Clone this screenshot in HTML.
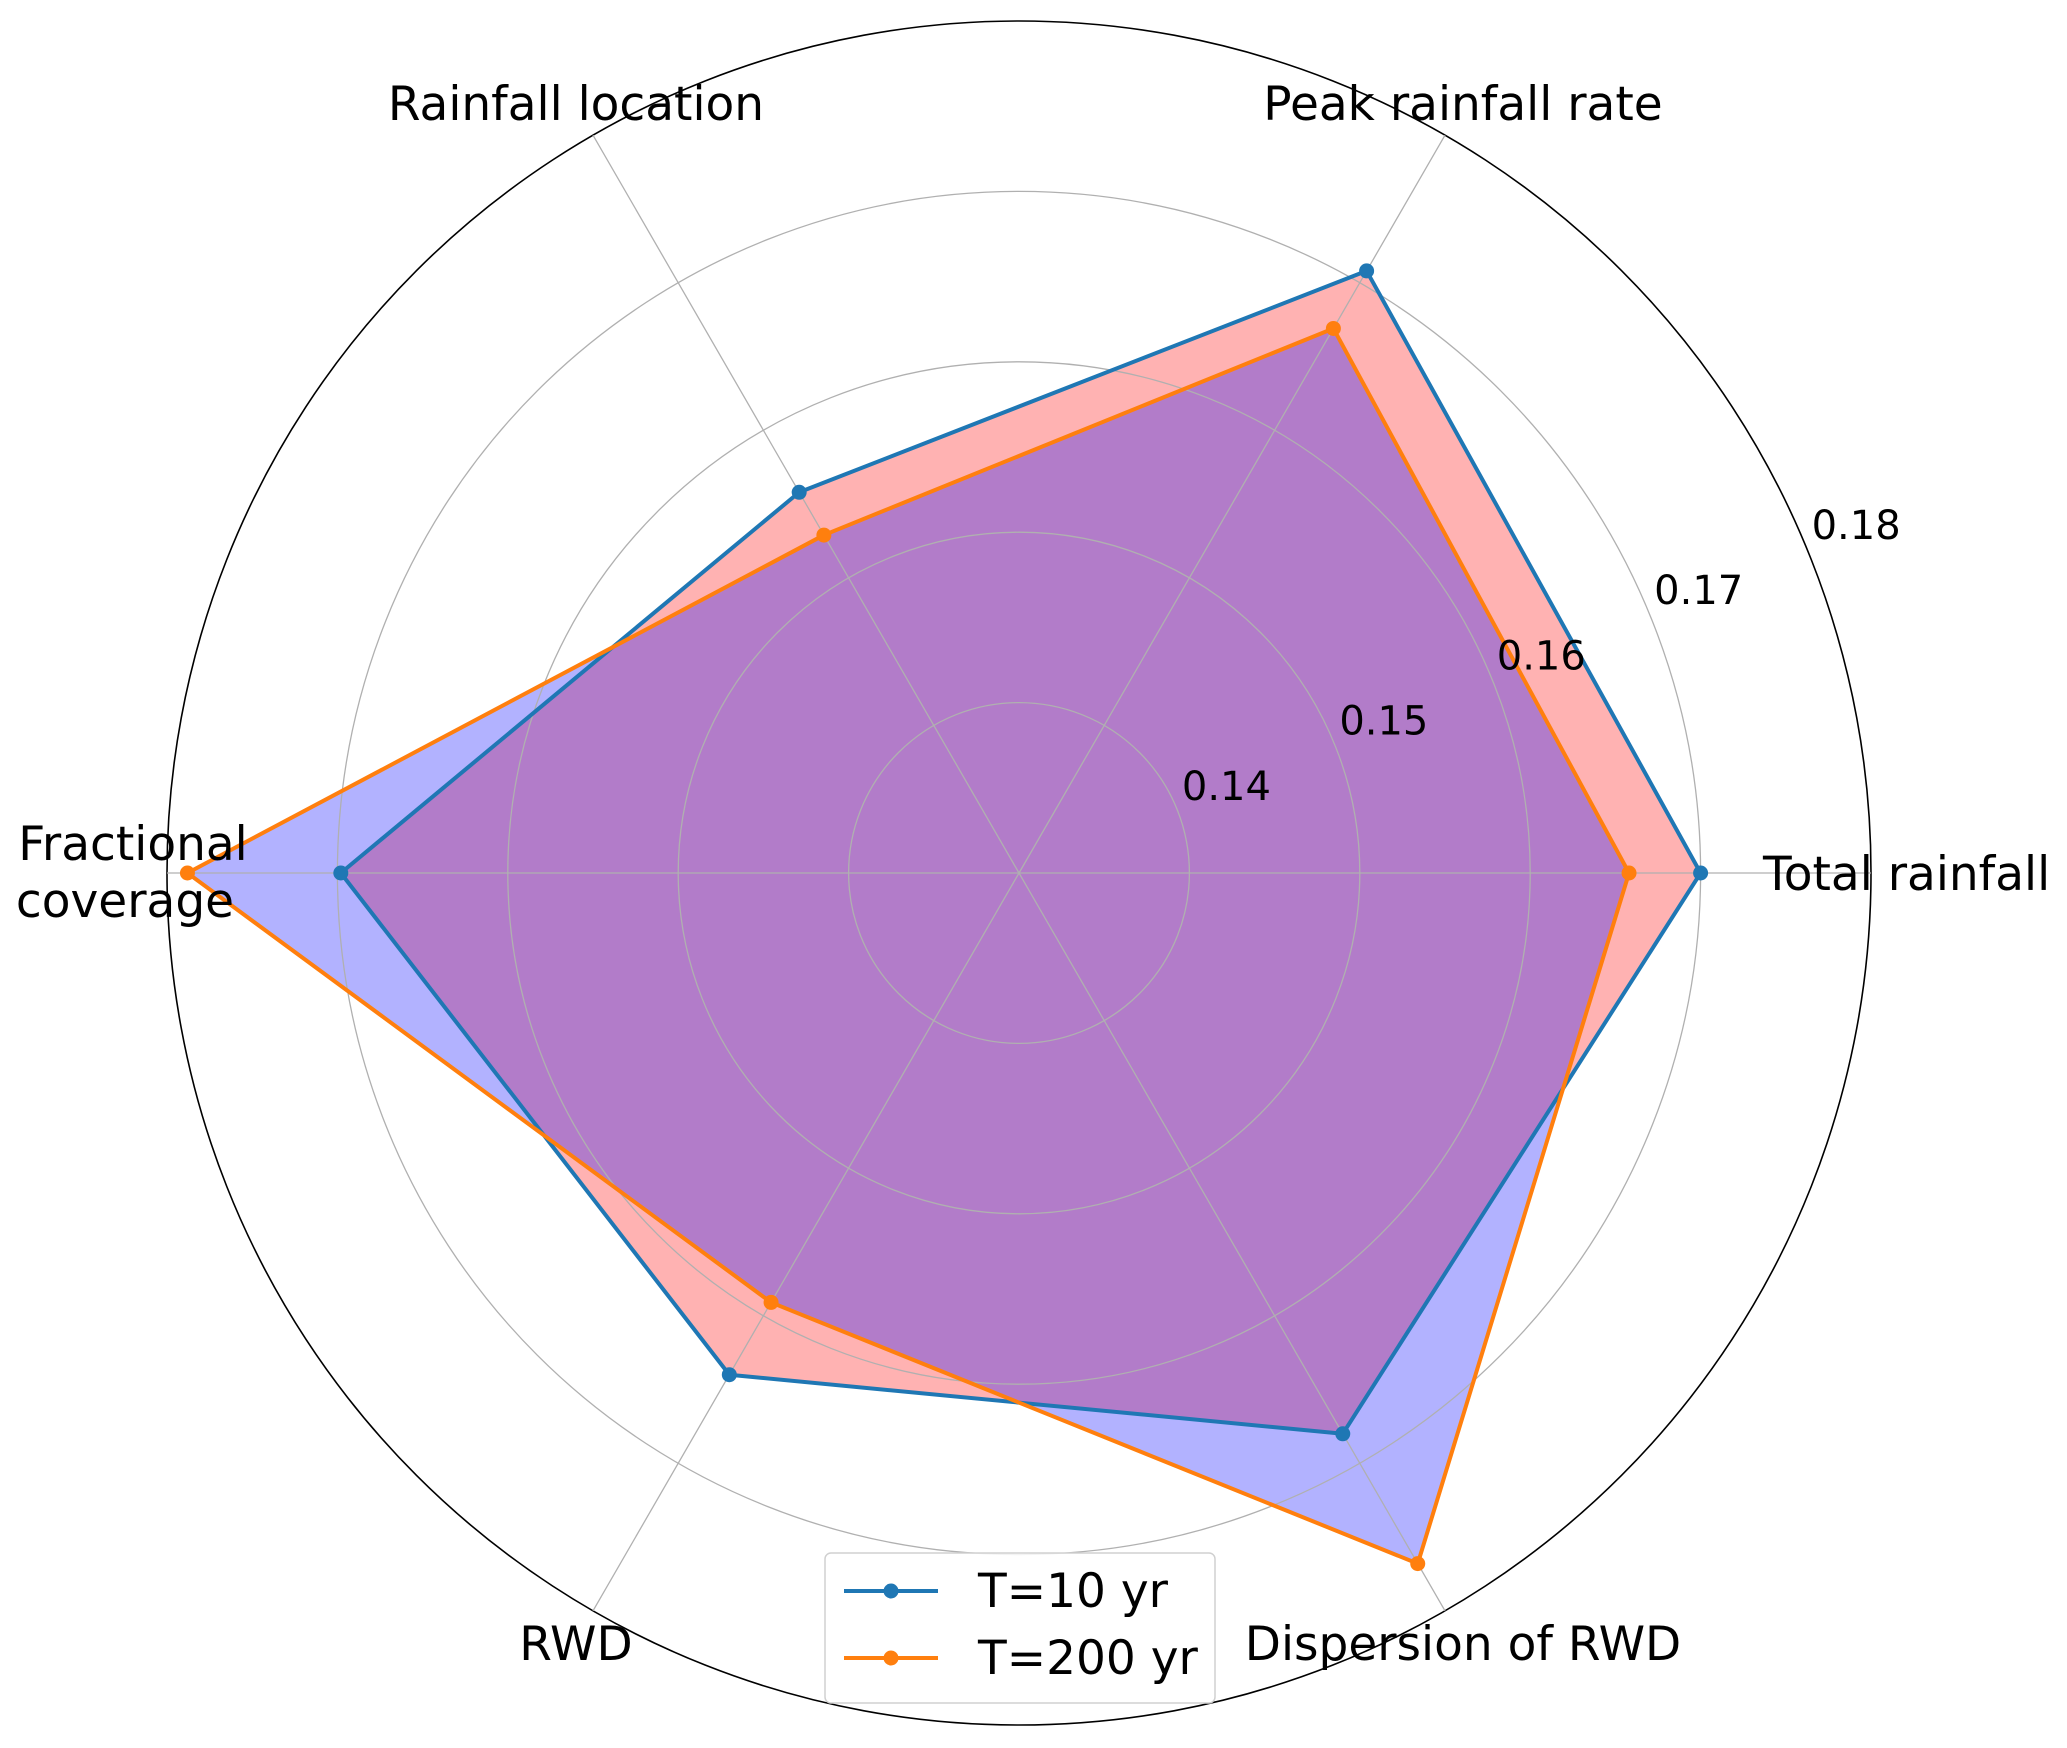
<!DOCTYPE html>
<html><head><meta charset="utf-8"><style>
html,body{margin:0;padding:0;background:#fff;}
svg{display:block;font-family:"DejaVu Sans","Liberation Sans",sans-serif;}
</style></head><body>
<svg id="chart" width="2067" height="1748" viewBox="0 0 2067 1748" xmlns="http://www.w3.org/2000/svg">
<g id="fills"></g>
<g id="grid"></g>
<g id="lines"></g>
<g id="labels"></g>
<g id="legend">
  <rect x="825" y="1553" width="390" height="150" rx="6" fill="#fff" fill-opacity="0.85" stroke="#d0d0d0" stroke-width="1.5"/>
  <g>
    <line x1="844" y1="1591" x2="938" y2="1591" stroke="#1f77b4" stroke-width="4"/>
    <circle cx="891" cy="1591" r="7.5" fill="#1f77b4"/>
    <text x="978" y="1607" font-size="47" fill="#000">T=10 yr</text>
  </g>
  <g>
    <line x1="844" y1="1658" x2="938" y2="1658" stroke="#ff7f0e" stroke-width="4"/>
    <circle cx="891" cy="1658" r="7.5" fill="#ff7f0e"/>
    <text x="978" y="1674" font-size="47" fill="#000">T=200 yr</text>
  </g>
</g>
</svg>
<script>
const categories = ["Total rainfall","Peak rainfall rate","Rainfall location","Fractional coverage","RWD","Dispersion of RWD"];
const seriesT10 = [0.170, 0.1708, 0.1558, 0.1698, 0.1640, 0.1680];
const seriesT200 = [0.1658, 0.1669, 0.1529, 0.1788, 0.1591, 0.1768];
const tickValues = [0.14, 0.15, 0.16, 0.17, 0.18];
const tickLabels = ["0.14","0.15","0.16","0.17","0.18"];

const NS = "http://www.w3.org/2000/svg";
const cx = 1019, cy = 873, rMin = 0.13, rMax = 0.18, R = 852;
function rScale(v){ return (v - rMin) / (rMax - rMin) * R; }
function angle(i){ return i * Math.PI * 2 / categories.length; }
function pt(i, v){ const r = rScale(v), a = angle(i); return [cx + r*Math.cos(a), cy - r*Math.sin(a)]; }
function mk(tag, attrs, parent){ const e = document.createElementNS(NS, tag); for (const k in attrs) e.setAttribute(k, attrs[k]); parent.appendChild(e); return e; }

const grid = document.getElementById('grid');
tickValues.forEach((v, i) => {
  const last = i === tickValues.length - 1;
  const c = mk('circle', {cx: cx, cy: cy, r: rScale(v), fill: 'none', stroke: last ? '#000' : '#b0b0b0', 'stroke-width': last ? 1.6 : 1.3}, grid);
  
  
});
categories.forEach((c, i) => {
  const [x, y] = pt(i, rMax);
  const l = mk('line', {x1: cx, y1: cy, x2: x, y2: y, stroke: '#b0b0b0', 'stroke-width': 1.3}, grid);
  
  
});

function poly(vals){ return vals.map((v, i) => pt(i, v).join(',')).join(' '); }
const fills = document.getElementById('fills');
const f1 = mk('polygon', {points: poly(seriesT10), fill: '#ff0000', 'fill-opacity': 0.3}, fills);


const f2 = mk('polygon', {points: poly(seriesT200), fill: '#0000ff', 'fill-opacity': 0.3}, fills);



const lines = document.getElementById('lines');
[[seriesT10, '#1f77b4', 't10'], [seriesT200, '#ff7f0e', 't200']].forEach(([vals, col, nm]) => {
  const pl = mk('polygon', {points: poly(vals), fill: 'none', stroke: col, 'stroke-width': 4, 'stroke-linejoin': 'round'}, lines);
  
  
  vals.forEach((v, i) => {
    const [x, y] = pt(i, v);
    const c = mk('circle', {cx: x, cy: y, r: 7.5, fill: col}, lines);
    
    
  });
});

const labels = document.getElementById('labels');
tickValues.forEach((v, i) => {
  const a = Math.PI / 8, r = rScale(v);
  const t = mk('text', {x: cx + r*Math.cos(a) + 50, y: cy - r*Math.sin(a) - 22 + 14, 'font-size': 40, 'text-anchor': 'middle', fill: '#000'}, labels);
  t.textContent = tickLabels[i];
  
  
});
const labelPos = [
  [[1763, 890, 'start']],
  [[1463, 120, 'middle']],
  [[576, 120, 'middle']],
  [[133, 860, 'middle'], [125, 917, 'middle']],
  [[576, 1660, 'middle']],
  [[1463, 1660, 'middle']]
];
const labelLines = [["Total rainfall"],["Peak rainfall rate"],["Rainfall location"],["Fractional","coverage"],["RWD"],["Dispersion of RWD"]];
categories.forEach((c, i) => {
  labelLines[i].forEach((s, j) => {
    const p = labelPos[i][j];
    const t = mk('text', {x: p[0], y: p[1], 'font-size': 47, 'text-anchor': p[2], fill: '#000'}, labels);
    t.textContent = s;
    
    
  });
});
</script>
</body></html>
